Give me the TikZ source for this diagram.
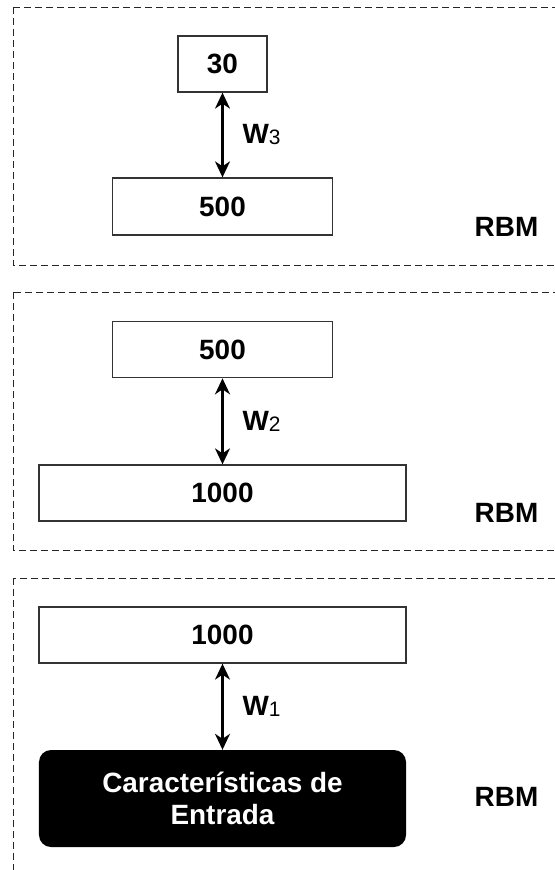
\documentclass[tikz,border=0pt]{standalone}
\usepackage{fontspec}
\setmainfont{Liberation Sans}
\usetikzlibrary{arrows.meta,positioning}
\tikzset{
  layerbox/.style={draw=black!80,line width=1.3pt,fill=white,inner sep=0pt,font=\bfseries\fontsize{28}{32}\selectfont},
  inputbox/.style={fill=black,rounded corners=12bp,text=white,align=center,inner sep=0pt,font=\bfseries\fontsize{28}{32}\selectfont},
  panelbox/.style={draw=black!85,dash pattern=on 7bp off 4bp,line width=1pt},
  rbmtag/.style={inner sep=0pt,font=\bfseries\fontsize{28}{32}\selectfont},
  wlink/.style={{Stealth[length=16bp,width=15bp,inset=5bp]}-{Stealth[length=16bp,width=15bp,inset=5bp]},line width=2.1pt},
  wtag/.style={right=19bp,inner sep=0pt,font=\bfseries\fontsize{28}{32}\selectfont}
}
\newcommand{\wsub}[1]{W{\mdseries\fontsize{21}{24}\selectfont\raisebox{-1bp}{#1}}}
\begin{document}
\begin{tikzpicture}[x=1bp,y=-1bp]
  \useasboundingbox (0,0) rectangle (555,870);
  \clip (0,0) rectangle (555,870);
  \draw[panelbox] (13,7) rectangle (600,265);
  \draw[panelbox] (13,292) rectangle (600,550.5);
  \draw[panelbox] (13,578) rectangle (600,900);
  \node[layerbox,minimum width=89bp,minimum height=56bp] (top30) at (222.5,64) {30};
  \node[layerbox,minimum width=220bp,minimum height=57bp] (top500) at (222.5,206.5) {500};
  \draw[wlink] (top30.south) -- (top500.north) node[midway,wtag] (wthree) {\wsub{3}};
  \node[rbmtag] (rbmtop) at (506.5,227) {RBM};
  \node[layerbox,minimum width=220bp,minimum height=56bp] (mid500) at (222.5,349.7) {500};
  \node[layerbox,minimum width=367bp,minimum height=56bp] (mid1000) at (222.5,493) {1000};
  \draw[wlink] (mid500.south) -- (mid1000.north) node[midway,wtag] (wtwo) {\wsub{2}};
  \node[rbmtag] (rbmmid) at (506.5,513) {RBM};
  \node[layerbox,minimum width=367bp,minimum height=56bp] (bot1000) at (222.5,635) {1000};
  \node[inputbox,minimum width=367bp,minimum height=97bp] (entrada) at (222.5,798.5) {Caracter\'isticas de\\Entrada};
  \draw[wlink] (bot1000.south) -- (entrada.north) node[midway,wtag] (wone) {\wsub{1}};
  \node[rbmtag] (rbmbot) at (506.5,797) {RBM};
\end{tikzpicture}
\end{document}
